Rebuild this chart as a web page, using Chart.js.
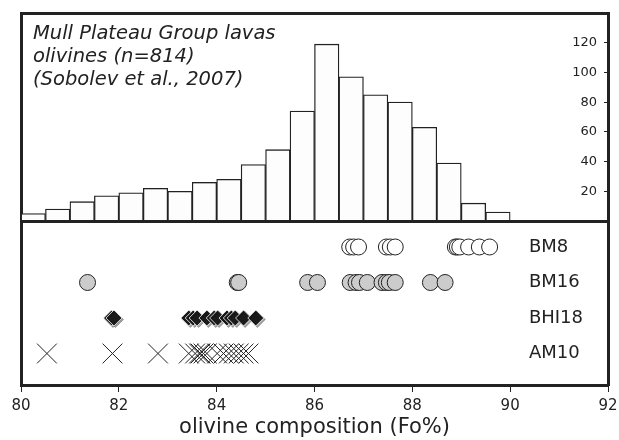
<!DOCTYPE html>
<html><head><meta charset="utf-8">
<script src="https://cdn.jsdelivr.net/npm/chart.js@4.4.1/dist/chart.umd.min.js"></script>
<style>
html,body{margin:0;padding:0;background:#fff;}
#wrap{position:relative;width:619px;height:440px;overflow:hidden;}
canvas{position:absolute;left:0;top:0;}
#note{position:absolute;left:33px;top:21px;font-family:"DejaVu Sans";font-style:italic;font-size:19.5px;line-height:23px;color:#222;white-space:nowrap;}
</style></head><body>
<div id="wrap">
<canvas id="topc" width="619" height="440"></canvas>
<canvas id="botc" width="619" height="440"></canvas>
<div id="note">Mull Plateau Group lavas<br>olivines (n=814)<br>(Sobolev et al., 2007)</div>
</div>
<script>
// ---- data ----
const binCenters = [80.25,80.75,81.25,81.75,82.25,82.75,83.25,83.75,84.25,84.75,85.25,85.75,86.25,86.75,87.25,87.75,88.25,88.75,89.25,89.75];
const binCounts  = [5,8,13,17,19,22,20,26,28,38,48,74,119,97,85,80,63,39,12,6];
const histTicks  = [20,40,60,80,100,120];
const xTicks     = [80,82,84,86,88,90,92];
const sampleNames = ['AM10','BHI18','BM16','BM8']; // bottom to top
const BM8   = [86.72,86.80,86.90,87.47,87.55,87.65,88.88,88.92,88.97,89.15,89.37,89.58];
const BM16  = [81.36,84.42,84.45,85.86,86.06,86.73,86.85,86.92,87.08,87.38,87.47,87.53,87.65,88.37,88.67];
const BHI18 = [81.85,81.90,83.43,83.52,83.60,83.80,83.95,84.02,84.21,84.30,84.38,84.55,84.80];
const AM10  = [80.53,81.87,82.80,83.43,83.56,83.64,83.67,83.73,83.80,84.01,84.14,84.25,84.35,84.45,84.55,84.65];

Chart.defaults.font.family = 'DejaVu Sans';
Chart.defaults.color = '#222';
const INK = '#222';

function rowData(name, arr){ const r = sampleNames.indexOf(name)+1; return arr.map(x=>({x:x,y:r})); }
function noPad(s){ s.paddingLeft=0; s.paddingRight=0; }

// ---- top: histogram ----
new Chart(document.getElementById('topc'), {
  type:'bar',
  data:{datasets:[{
    xAxisID:'x', yAxisID:'y',
    data: binCenters.map((x,i)=>({x:x,y:binCounts[i]})),
    backgroundColor:'#fdfdfd', borderColor:INK, borderWidth:1.3,
    barPercentage:1, categoryPercentage:1, borderSkipped:'start'
  }]},
  options:{
    responsive:false, animation:false, events:[],
    layout:{autoPadding:false,padding:{left:21,right:11,top:13,bottom:219}},
    plugins:{legend:{display:false},tooltip:{enabled:false}},
    scales:{
      x:{type:'linear',min:80,max:92,position:'bottom',offset:false,
         afterBuildTicks(s){s.ticks=xTicks.map(v=>({value:v}));},
         ticks:{display:false},grid:{display:false,offset:false},
         border:{display:true,width:3,color:INK},afterFit(s){s.height=0;noPad(s);}},
      xt:{type:'linear',min:80,max:92,position:'top',offset:false,
         ticks:{display:false},grid:{display:false},
         border:{display:true,width:3,color:INK},afterFit(s){s.height=0;noPad(s);}},
      yl:{type:'linear',position:'left',
         ticks:{display:false},grid:{display:false},
         border:{display:true,width:3,color:INK},afterFit(s){s.width=0;}},
      y:{type:'linear',position:'right',min:0,max:140,
         afterBuildTicks(s){s.ticks=histTicks.map(v=>({value:v}));},
         ticks:{mirror:true,padding:-11,font:{size:13},color:INK},
         grid:{display:true,drawOnChartArea:false,drawTicks:true,tickLength:-4,color:INK,lineWidth:1},
         border:{display:true,width:3,color:INK},afterFit(s){s.width=0;}}
    }
  }
});

// ---- bottom: sample rows ----
const shadowPlugin = {
  id:'diamondShadow',
  beforeDatasetDraw(chart,args){
    if(chart.data.datasets[args.index].label==='BHI18'){
      const c=chart.ctx; c.save();
      c.shadowColor='rgba(0,0,0,0.35)'; c.shadowOffsetX=1.5; c.shadowOffsetY=1.5; c.shadowBlur=0;
    }
  },
  afterDatasetDraw(chart,args){
    if(chart.data.datasets[args.index].label==='BHI18'){ chart.ctx.restore(); }
  }
};

const ax = {xAxisID:'x', yAxisID:'y'};
new Chart(document.getElementById('botc'), {
  type:'scatter',
  data:{datasets:[
    Object.assign({label:'BM8',data:rowData('BM8',BM8),pointStyle:'circle',pointRadius:8,backgroundColor:'#ffffff',borderColor:INK,borderWidth:1},ax),
    Object.assign({label:'BM16',data:rowData('BM16',BM16),pointStyle:'circle',pointRadius:8,backgroundColor:'#cccccc',borderColor:INK,borderWidth:1},ax),
    Object.assign({label:'BHI18',data:rowData('BHI18',BHI18),pointStyle:'rectRot',pointRadius:8,backgroundColor:'#1a1a1a',borderColor:'#ffffff',borderWidth:0.8},ax),
    Object.assign({label:'AM10',data:rowData('AM10',AM10),pointStyle:'crossRot',pointRadius:14,backgroundColor:INK,borderColor:INK,borderWidth:1},ax)
  ]},
  plugins:[shadowPlugin],
  options:{
    responsive:false, animation:false, events:[],
    layout:{autoPadding:false,padding:{left:21,right:11,top:221,bottom:0}},
    plugins:{legend:{display:false},tooltip:{enabled:false}},
    scales:{
      x:{type:'linear',min:80,max:92,position:'bottom',
         afterBuildTicks(s){s.ticks=xTicks.map(v=>({value:v}));},
         ticks:{font:{size:15},color:INK,padding:5,maxRotation:0},
         grid:{display:true,drawOnChartArea:false,drawTicks:true,tickLength:7,color:INK,lineWidth:1},
         border:{display:true,width:3,color:INK},
         title:{display:true,text:'olivine composition (Fo%)',font:{size:21},color:INK,padding:{top:0,bottom:0}},
         afterFit(s){s.height=55;noPad(s);}},
      xt:{type:'linear',min:80,max:92,position:'top',
         ticks:{display:false},grid:{display:false},
         border:{display:true,width:3,color:INK},afterFit(s){s.height=0;noPad(s);}},
      yl:{type:'linear',position:'left',
         ticks:{display:false},grid:{display:false},
         border:{display:true,width:3,color:INK},afterFit(s){s.width=0;}},
      y:{type:'linear',position:'right',min:0.113,max:4.732,
         afterBuildTicks(s){s.ticks=sampleNames.map((n,i)=>({value:i+1}));},
         ticks:{mirror:true,crossAlign:'far',padding:-25,font:{size:18},color:INK,
                callback:(v)=>sampleNames[v-1]},
         grid:{display:false},
         border:{display:true,width:3,color:INK},afterFit(s){s.width=0;}}
    }
  }
});
</script>
</body></html>
